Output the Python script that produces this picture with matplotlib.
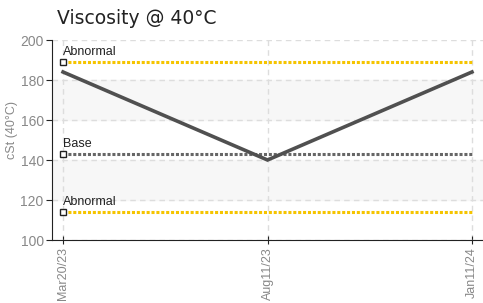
import matplotlib
matplotlib.use("Agg")
import matplotlib.pyplot as plt

dates = ["Mar20/23", "Aug11/23", "Jan11/24"]
viscosity = [184, 140, 184]
abnormal_high = 189
base = 143
abnormal_low = 114
bands = [(160, 180), (120, 140)]

cond = "Liberation Sans"

fig = plt.figure(figsize=(4.83, 3.03), dpi=100)
ax = fig.add_axes([52/483, 1-240/303, 1-52/483, 200/303])

x = list(range(len(dates)))
ax.set_xlim(-0.054, 2.054)
ax.set_ylim(100, 200)

for lo, hi in bands:
    ax.axhspan(lo, hi, color="#f7f7f7", zorder=0)

ax.grid(True, color="#dddddd", linestyle=(0, (4, 3)), linewidth=1)
ax.set_axisbelow(True)

# reference lines
for val, col, lab in [(abnormal_high, "#f5c400", "Abnormal"),
                      (base, "#666666", "Base"),
                      (abnormal_low, "#f5c400", "Abnormal")]:
    ax.plot([x[0], x[-1]], [val, val], color=col, linestyle=(0, (1, 0.6)),
            linewidth=2.2, zorder=2)
    ax.plot([x[0]], [val], marker="s", markersize=4.5, markerfacecolor="white",
            markeredgecolor="#222222", markeredgewidth=1, zorder=4)
    ax.text(x[0], val + 1.8, lab, fontsize=9, family=cond, color="#222222",
            ha="left", va="bottom", zorder=5)

ax.plot(x, viscosity, color="#505050", linewidth=2.6, zorder=3,
        solid_joinstyle="miter")

ax.set_xticks(x)
ax.set_xticklabels(dates, rotation=90, family=cond, fontsize=9, color="#888888")
ax.set_yticks([100, 120, 140, 160, 180, 200])
ax.tick_params(axis="y", labelsize=10, labelcolor="#888888", length=4,
               color="#222222", pad=2)
ax.tick_params(axis="x", direction="inout", length=6, color="#222222", pad=2)
for t in ax.get_yticklabels():
    t.set_family(cond)

ax.set_ylabel("cSt (40°C)", family=cond, fontsize=9, color="#888888")
ax.yaxis.set_label_coords(-(52 - 18) / (483 - 52), 0.55)

for s in ["top", "right"]:
    ax.spines[s].set_visible(False)
ax.spines["left"].set_color("#222222")
ax.spines["bottom"].set_color("#222222")

fig.text(57/483, 1-18/303, "Viscosity @ 40°C", fontsize=13.5, color="#222222",
         ha="left", va="center")

fig.savefig("out.png", dpi=100)
